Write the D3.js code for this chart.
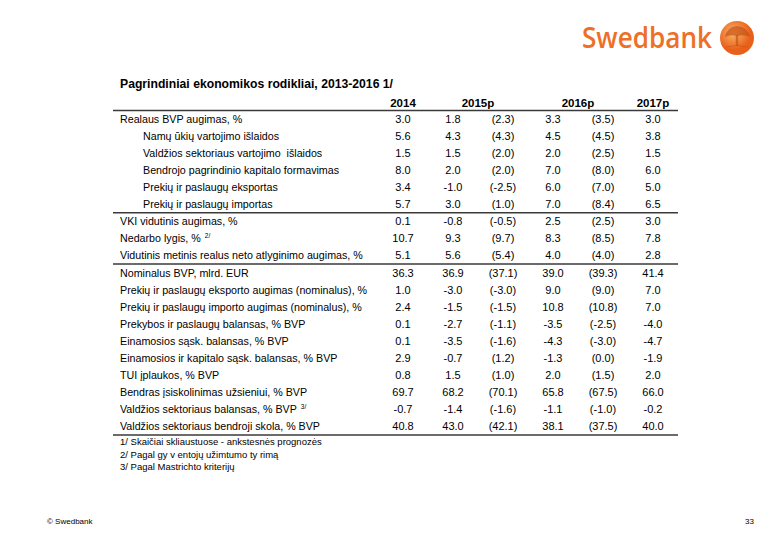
<!DOCTYPE html>
<html><head><meta charset="utf-8">
<script src="https://cdn.jsdelivr.net/npm/d3@7"></script>
<style>body{margin:0;background:#fff;} svg{display:block;font-family:"Liberation Sans",Arial,sans-serif;} text{white-space:pre;}</style>
</head><body>
<svg id="c" width="780" height="540"></svg>
<script>
const title = "Pagrindiniai ekonomikos rodikliai, 2013-2016 1/";
const columnKeys = ["y2014","y2015","y2015prev","y2016","y2016prev","y2017"];
const headerLabels = ["2014","2015p","2016p","2017p"];
const rowLabels = [
 "Realaus BVP augimas, %",
 "Namų ūkių vartojimo išlaidos",
 "Valdžios sektoriaus vartojimo  išlaidos",
 "Bendrojo pagrindinio kapitalo formavimas",
 "Prekių ir paslaugų eksportas",
 "Prekių ir paslaugų importas",
 "VKI vidutinis augimas, %",
 "Nedarbo lygis, %",
 "Vidutinis metinis realus neto atlyginimo augimas, %",
 "Nominalus BVP, mlrd. EUR",
 "Prekių ir paslaugų eksporto augimas (nominalus), %",
 "Prekių ir paslaugų importo augimas (nominalus), %",
 "Prekybos ir paslaugų balansas, % BVP",
 "Einamosios sąsk. balansas, % BVP",
 "Einamosios ir kapitalo sąsk. balansas, % BVP",
 "TUI įplaukos, % BVP",
 "Bendras įsiskolinimas užsieniui, % BVP",
 "Valdžios sektoriaus balansas, % BVP",
 "Valdžios sektoriaus bendroji skola, % BVP"
];
const rowIndented = [false,true,true,true,true,true,false,false,false,false,false,false,false,false,false,false,false,false,false];
const rowSuperscripts = ["","","","","","","","2/","","","","","","","","","","3/",""];
const values2014     = [3.0,5.6,1.5,8.0,3.4,5.7,0.1,10.7,5.1,36.3,1.0,2.4,0.1,0.1,2.9,0.8,69.7,-0.7,40.8];
const values2015     = [1.8,4.3,1.5,2.0,-1.0,3.0,-0.8,9.3,5.6,36.9,-3.0,-1.5,-2.7,-3.5,-0.7,1.5,68.2,-1.4,43.0];
const values2015prev = [2.3,4.3,2.0,2.0,-2.5,1.0,-0.5,9.7,5.4,37.1,-3.0,-1.5,-1.1,-1.6,1.2,1.0,70.1,-1.6,42.1];
const values2016     = [3.3,4.5,2.0,7.0,6.0,7.0,2.5,8.3,4.0,39.0,9.0,10.8,-3.5,-4.3,-1.3,2.0,65.8,-1.1,38.1];
const values2016prev = [3.5,4.5,2.5,8.0,7.0,8.4,2.5,8.5,4.0,39.3,9.0,10.8,-2.5,-3.0,0.0,1.5,67.5,-1.0,37.5];
const values2017     = [3.0,3.8,1.5,6.0,5.0,6.5,3.0,7.8,2.8,41.4,7.0,7.0,-4.0,-4.7,-1.9,2.0,66.0,-0.2,40.0];
const separatorsAfter = [5,8];
const footnotes = [
 "1/ Skaičiai skliaustuose - ankstesnės prognozės",
 "2/ Pagal gy v entojų užimtumo ty rimą",
 "3/ Pagal Mastrichto kriterijų"
];

const columns = [values2014,values2015,values2015prev,values2016,values2016prev,values2017];
const prevCols = [false,false,true,false,true,false];

const svg = d3.select("#c");
const x = d3.scalePoint().domain(columnKeys).range([403,653]);
const y = d3.scaleLinear().domain([0,rowLabels.length-1]).range([123,430]);
const lineX0 = 113, lineX1 = 678;
const fmt = v => v.toFixed(1);

// logo
const logo = svg.append("g");
logo.append("text").attr("x",582).attr("y",48).attr("font-family","'Open Sans','Noto Sans',sans-serif")
  .attr("font-size",28).attr("font-weight",600).attr("fill","#ee7026").attr("textLength",130).attr("lengthAdjust","spacingAndGlyphs").text("Swedbank");
const grad = svg.append("defs").append("radialGradient").attr("id","lg").attr("cx","40%").attr("cy","35%");
grad.append("stop").attr("offset","0%").attr("stop-color","#fbb36a");
grad.append("stop").attr("offset","100%").attr("stop-color","#e8611a");
logo.append("circle").attr("cx",737).attr("cy",38).attr("r",17).attr("fill","url(#lg)");
logo.append("path").attr("d","M725,37 Q727,27 737,26 Q748,27 750,37 Q744,34 737,36 Q730,34 725,37 Z").attr("fill","#c24e12").attr("opacity",0.65);
logo.append("rect").attr("x",735.8).attr("y",35).attr("width",2.4).attr("height",11).attr("fill","#c24e12").attr("opacity",0.65);
logo.append("path").attr("d","M726,47 Q737,44 748,47").attr("stroke","#c24e12").attr("fill","none").attr("opacity",0.5);

// title
svg.append("text").attr("x",120).attr("y",88).attr("font-size",12.2).attr("font-weight","bold").attr("fill","#000").text(title);

// header
const hdrX = [x("y2014"),(x("y2015")+x("y2015prev"))/2,(x("y2016")+x("y2016prev"))/2,x("y2017")];
svg.selectAll("text.hdr").data(headerLabels).join("text").attr("class","hdr")
  .attr("x",(d,i)=>hdrX[i]).attr("y",107).attr("text-anchor","middle")
  .attr("font-size",11.5).attr("font-weight","bold").text(d=>d);

// rules
const ruleYs = [110.5, ...separatorsAfter.map(i=>(y(i)+y(i+1))/2 - 4), 435];
svg.selectAll("line.rule").data(ruleYs).join("line").attr("class","rule")
  .attr("x1",lineX0).attr("x2",lineX1).attr("y1",d=>d).attr("y2",d=>d)
  .attr("stroke","#3a3a3a").attr("stroke-width",1.6);

// row labels
const lbl = svg.selectAll("text.lbl").data(rowLabels).join("text").attr("class","lbl")
  .attr("x",(d,i)=>rowIndented[i]?143:120).attr("y",(d,i)=>y(i))
  .attr("font-size",10.7).attr("fill","#000");
lbl.append("tspan").text(d=>d);
lbl.filter((d,i)=>rowSuperscripts[i]).append("tspan").attr("dx",4).attr("dy",-4).attr("font-size",6.5)
  .text(d=>rowSuperscripts[rowLabels.indexOf(d)]);

// values
columns.forEach((col,ci)=>{
  svg.selectAll("text.v"+ci).data(col).join("text").attr("class","v"+ci)
    .attr("x",x(columnKeys[ci])).attr("y",(d,i)=>y(i)).attr("text-anchor","middle")
    .attr("font-size",11).attr("fill","#000")
    .text(d=>prevCols[ci]?"("+fmt(d)+")":fmt(d));
});

// footnotes
svg.selectAll("text.fn").data(footnotes).join("text").attr("class","fn")
  .attr("x",120).attr("y",(d,i)=>445+i*12.5).attr("font-size",9.5).attr("fill","#000").text(d=>d);

// footer
svg.append("text").attr("x",47).attr("y",524).attr("font-size",8).text("© Swedbank");
svg.append("text").attr("x",745).attr("y",524).attr("font-size",8).text("33");
</script>
</body></html>
